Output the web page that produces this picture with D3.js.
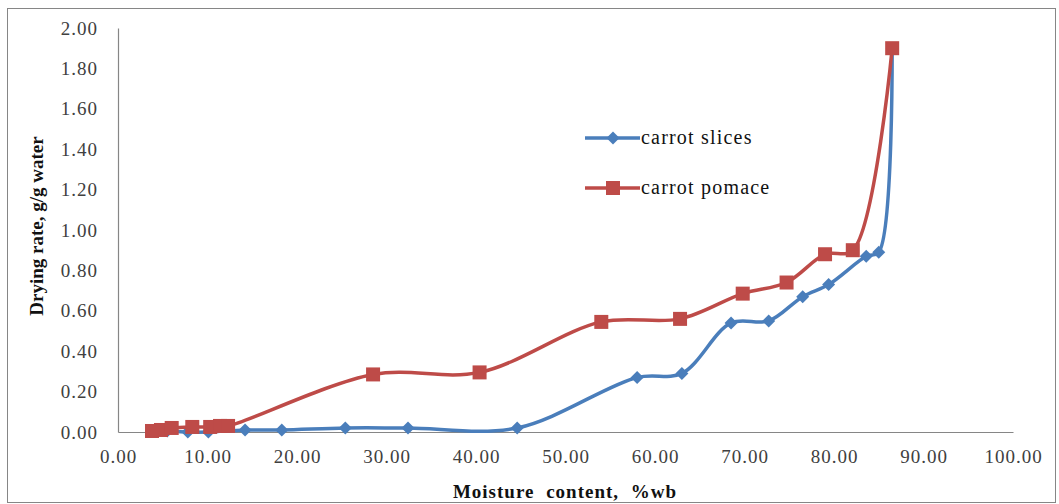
<!DOCTYPE html>
<html>
<head>
<meta charset="utf-8">
<script src="https://cdn.jsdelivr.net/npm/d3@7"></script>
<style>
  body { margin: 0; background: #fff; }
  text { font-family: "Liberation Serif", "Times New Roman", serif; }
</style>
</head>
<body>
<div id="chart"></div>
<script>
// data
var slicesX = [3.9, 5.5, 7.8, 10.1, 14.2, 18.3, 25.4, 32.4, 44.6, 58.0, 63.0, 68.5, 72.7, 76.5, 79.4, 83.6, 85.0, 86.5];
var slicesY = [0.005, 0.005, 0.0, 0.0, 0.01, 0.01, 0.02, 0.02, 0.02, 0.27, 0.29, 0.54, 0.55, 0.67, 0.73, 0.87, 0.89, 1.90];
var pomaceX = [3.8, 4.8, 6.0, 8.3, 10.3, 11.4, 12.3, 28.5, 40.4, 54.0, 62.8, 69.8, 74.7, 79.0, 82.1, 86.5];
var pomaceY = [0.005, 0.01, 0.02, 0.025, 0.025, 0.03, 0.03, 0.285, 0.295, 0.545, 0.56, 0.685, 0.74, 0.88, 0.90, 1.90];
var seriesNames = ["carrot slices", "carrot pomace"];
var seriesColors = ["#4a7ebb", "#be4b48"];
var xTicks = [0, 10, 20, 30, 40, 50, 60, 70, 80, 90, 100];
var yTicks = [0, 0.2, 0.4, 0.6, 0.8, 1.0, 1.2, 1.4, 1.6, 1.8, 2.0];

var W = 1059, H = 504;
var margin = {top: 28, right: 46, bottom: 72, left: 118};

var svg = d3.select("#chart").append("svg")
    .attr("width", W)
    .attr("height", H);

// outer chart border
svg.append("rect")
    .attr("x", 7.5).attr("y", 8.5)
    .attr("width", 1048).attr("height", 494)
    .style("fill", "#fff")
    .style("stroke", "#868686")
    .style("stroke-width", 1);

var x = d3.scaleLinear().domain([0, 100]).range([margin.left, W - margin.right]);
var y = d3.scaleLinear().domain([0, 2]).range([H - margin.bottom, margin.top]);

var fmt = d3.format(".2f");

// axes
var xAxis = svg.append("g")
    .attr("transform", "translate(0," + y(0) + ")")
    .call(d3.axisBottom(x).tickValues(xTicks).tickSize(0).tickPadding(18).tickFormat(fmt));
var yAxis = svg.append("g")
    .attr("transform", "translate(" + x(0) + ",0)")
    .call(d3.axisLeft(y).tickValues(yTicks).tickSize(0).tickPadding(20).tickFormat(fmt));

[xAxis, yAxis].forEach(function (a) {
    a.select(".domain").style("stroke", "#868686").style("stroke-width", 1.2);
    a.selectAll("text")
        .style("font-family", "'Liberation Serif', serif")
        .style("font-size", "19px")
        .style("letter-spacing", "1px")
        .style("fill", "#404040");
});

// axis titles
svg.append("text")
    .attr("x", 565).attr("y", 498)
    .attr("text-anchor", "middle")
    .style("font-size", "19px")
    .style("font-weight", "bold")
    .style("letter-spacing", "1px")
    .style("word-spacing", "6px")
    .style("fill", "#111")
    .text("Moisture content, %wb");

svg.append("text")
    .attr("transform", "translate(43,226) rotate(-90)")
    .attr("text-anchor", "middle")
    .style("font-size", "19px")
    .style("font-weight", "bold")
    .style("fill", "#111")
    .text("Drying rate, g/g water");

// series
var series = [
    {name: seriesNames[0], color: seriesColors[0], shape: "diamond",
        pts: slicesX.map(function (v, i) { return [v, slicesY[i]]; })},
    {name: seriesNames[1], color: seriesColors[1], shape: "square",
        pts: pomaceX.map(function (v, i) { return [v, pomaceY[i]]; })}
];

var line = d3.line()
    .x(function (d) { return x(d[0]); })
    .y(function (d) { return y(d[1]); })
    .curve(d3.curveCatmullRom.alpha(0.5));

function drawMarker(g, shape, color) {
    if (shape === "diamond") {
        g.append("path")
            .attr("d", "M0,-6.5L6.5,0L0,6.5L-6.5,0Z")
            .style("fill", color);
    } else {
        g.append("rect")
            .attr("x", -7).attr("y", -7)
            .attr("width", 14).attr("height", 14)
            .style("fill", color);
    }
}

series.forEach(function (s) {
    svg.append("path")
        .datum(s.pts)
        .attr("d", line)
        .style("fill", "none")
        .style("stroke", s.color)
        .style("stroke-width", 3.5)
        .style("stroke-linejoin", "round");

    svg.selectAll("g.m-" + s.shape)
        .data(s.pts)
        .enter().append("g")
        .attr("class", "m-" + s.shape)
        .attr("transform", function (d) { return "translate(" + x(d[0]) + "," + y(d[1]) + ")"; })
        .each(function () { drawMarker(d3.select(this), s.shape, s.color); });
});

// legend
var legend = svg.append("g");
series.forEach(function (s, i) {
    var ly = 138 + i * 50;
    var g = legend.append("g").attr("transform", "translate(585," + ly + ")");
    g.append("line")
        .attr("x1", 0).attr("x2", 55)
        .style("stroke", s.color)
        .style("stroke-width", 3.5);
    var m = g.append("g").attr("transform", "translate(28,0)");
    drawMarker(m, s.shape, s.color);
    g.append("text")
        .attr("x", 56).attr("y", 6)
        .style("font-size", "20px")
        .style("letter-spacing", "1.2px")
        .style("fill", "#111")
        .text(s.name);
});
</script>
</body>
</html>
